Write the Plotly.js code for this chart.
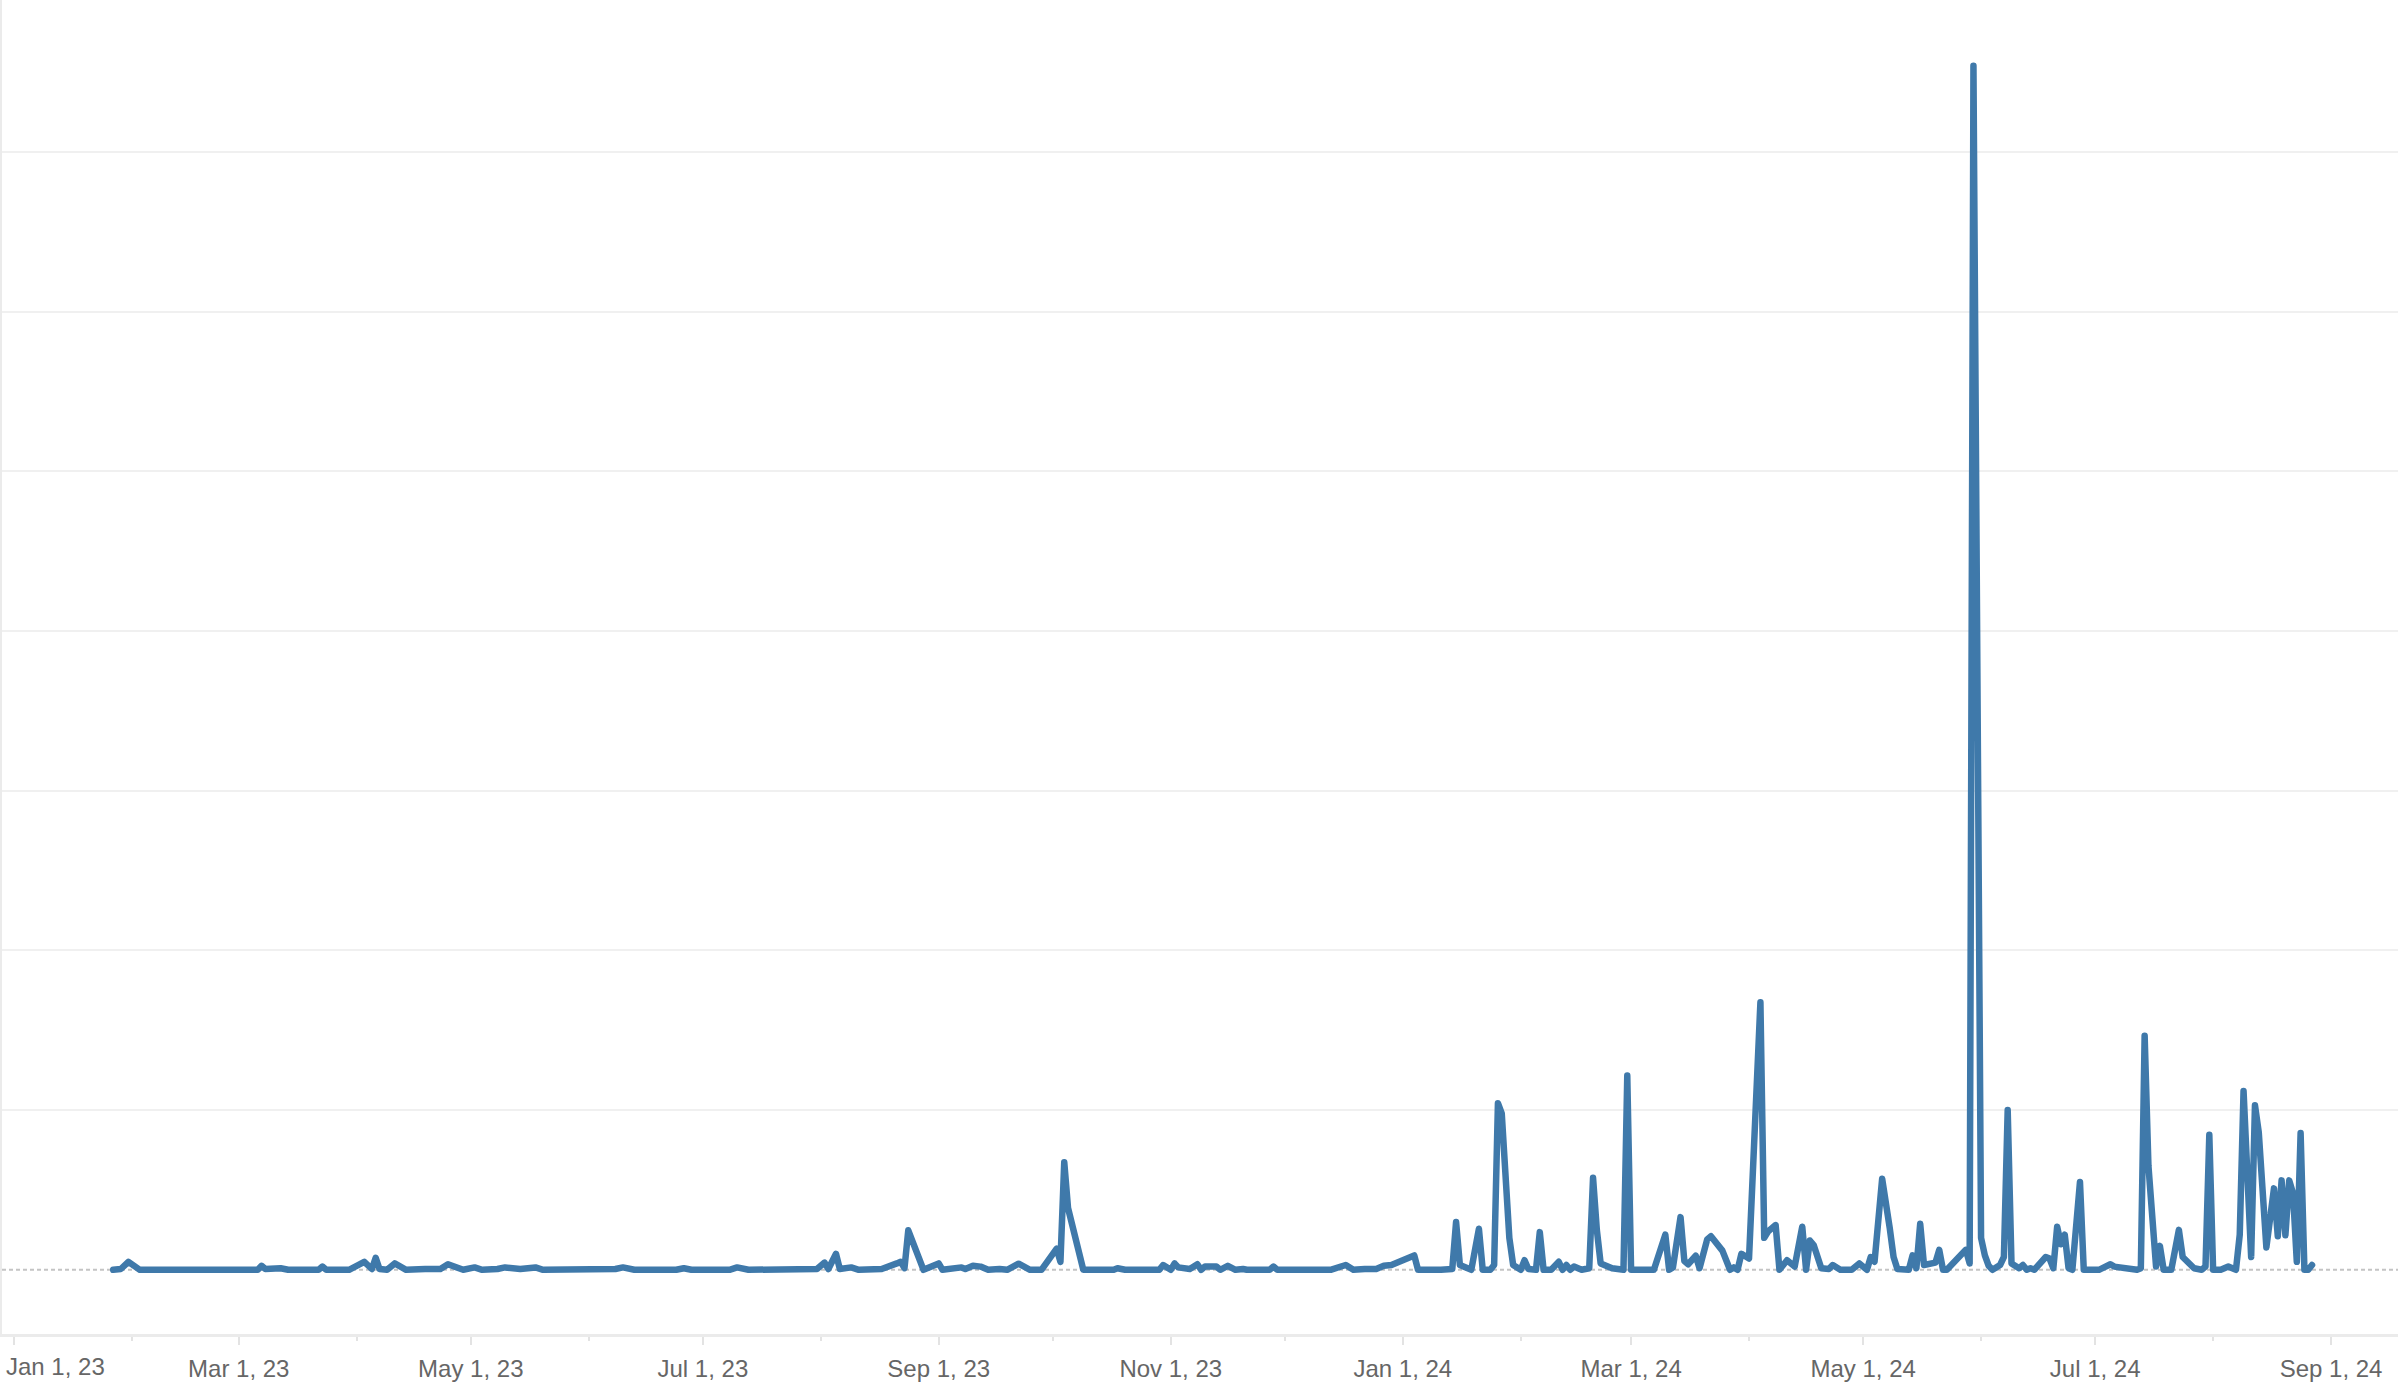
<!DOCTYPE html>
<html>
<head>
<meta charset="utf-8">
<script src="https://cdn.plot.ly/plotly-3.0.1.min.js"></script>
<style>
  html, body { margin: 0; padding: 0; background: #ffffff; }
  #chart { width: 2398px; height: 1396px; }
  #chart .js-line { stroke-linejoin: round; stroke-linecap: round; }
</style>
</head>
<body>
<div id="chart"></div>
<script>
// ---- data (y in arbitrary units, gridline step = 100) ----
const dates = [
  '2023-01-27','2023-01-29','2023-01-31','2023-02-03','2023-03-06','2023-03-07','2023-03-08','2023-03-12','2023-03-14',
  '2023-03-22','2023-03-23','2023-03-24','2023-03-30','2023-04-03','2023-04-05','2023-04-06','2023-04-07','2023-04-09',
  '2023-04-11','2023-04-14','2023-04-19','2023-04-21','2023-04-23','2023-04-25','2023-04-29','2023-05-02','2023-05-04',
  '2023-05-08','2023-05-10','2023-05-14','2023-05-18','2023-05-20','2023-06-05','2023-06-06','2023-06-08','2023-06-10',
  '2023-06-13','2023-06-24','2023-06-26','2023-06-28','2023-07-08','2023-07-10','2023-07-13','2023-07-31','2023-08-02',
  '2023-08-03','2023-08-05','2023-08-06','2023-08-09','2023-08-11','2023-08-17','2023-08-21','2023-08-22','2023-08-23',
  '2023-08-24','2023-08-28','2023-09-01','2023-09-02','2023-09-05','2023-09-07','2023-09-08','2023-09-10','2023-09-12',
  '2023-09-14','2023-09-17','2023-09-19','2023-09-22','2023-09-25','2023-09-28','2023-10-02','2023-10-03','2023-10-04',
  '2023-10-05','2023-10-09','2023-10-17','2023-10-18','2023-10-20','2023-10-29','2023-10-30','2023-11-01','2023-11-02',
  '2023-11-03','2023-11-06','2023-11-08','2023-11-09','2023-11-10','2023-11-13','2023-11-14','2023-11-16','2023-11-18',
  '2023-11-20','2023-11-21','2023-11-27','2023-11-28','2023-11-29','2023-12-13','2023-12-17','2023-12-19','2023-12-22',
  '2023-12-25','2023-12-27','2023-12-29','2024-01-04','2024-01-05','2024-01-11','2024-01-13','2024-01-14','2024-01-15',
  '2024-01-16','2024-01-19','2024-01-21','2024-01-22','2024-01-24','2024-01-25','2024-01-26','2024-01-27','2024-01-28',
  '2024-01-29','2024-01-30','2024-02-01','2024-02-02','2024-02-03','2024-02-05','2024-02-06','2024-02-07','2024-02-09',
  '2024-02-11','2024-02-12','2024-02-13','2024-02-14','2024-02-15','2024-02-17','2024-02-19','2024-02-20','2024-02-21',
  '2024-02-22','2024-02-25','2024-02-28','2024-02-29','2024-03-01','2024-03-07','2024-03-10','2024-03-11','2024-03-12',
  '2024-03-14','2024-03-15','2024-03-16','2024-03-18','2024-03-19','2024-03-21','2024-03-22','2024-03-25','2024-03-27',
  '2024-03-28','2024-03-29','2024-03-30','2024-04-01','2024-04-04','2024-04-05','2024-04-06','2024-04-08','2024-04-09',
  '2024-04-11','2024-04-13','2024-04-15','2024-04-16','2024-04-17','2024-04-18','2024-04-20','2024-04-22','2024-04-23',
  '2024-04-25','2024-04-28','2024-04-30','2024-05-02','2024-05-03','2024-05-04','2024-05-06','2024-05-08','2024-05-09',
  '2024-05-10','2024-05-13','2024-05-14','2024-05-15','2024-05-16','2024-05-17','2024-05-20','2024-05-21','2024-05-22',
  '2024-05-23','2024-05-28','2024-05-29','2024-05-30','2024-06-01','2024-06-02','2024-06-03','2024-06-04','2024-06-06',
  '2024-06-07','2024-06-08','2024-06-09','2024-06-10','2024-06-11','2024-06-12','2024-06-13','2024-06-14','2024-06-15',
  '2024-06-18','2024-06-19','2024-06-20','2024-06-21','2024-06-22','2024-06-23','2024-06-24','2024-06-25','2024-06-27',
  '2024-06-28','2024-07-02','2024-07-05','2024-07-06','2024-07-08','2024-07-10','2024-07-12','2024-07-13','2024-07-14',
  '2024-07-15','2024-07-16','2024-07-17','2024-07-18','2024-07-19','2024-07-21','2024-07-23','2024-07-24','2024-07-26',
  '2024-07-27','2024-07-29','2024-07-30','2024-07-31','2024-08-01','2024-08-03','2024-08-05','2024-08-07','2024-08-08',
  '2024-08-09','2024-08-10','2024-08-11','2024-08-12','2024-08-13','2024-08-15','2024-08-17','2024-08-18','2024-08-19',
  '2024-08-20','2024-08-21','2024-08-22','2024-08-23','2024-08-24','2024-08-25','2024-08-26','2024-08-27'
];
const values = [
  0, 0.5, 5, 0, 0, 2.5, 0.5, 1, 0,
  0, 2, 0, 0, 5, 0.5, 7.5, 0.5, 0,
  4, 0, 0.5, 1, 0.5, 3.5, 0, 1.5, 0,
  0.5, 1.5, 0.5, 1.5, 0, 0, 1, 0.5, 1.5,
  0, 0, 1, 0, 0, 1.5, 0, 0.5, 4.5,
  0.5, 10, 0.5, 1.5, 0, 0.5, 4, 5, 1,
  24.7, 0, 4, 0, 0.5, 1.5, 0.5, 2.5, 2,
  0, 0.5, 0, 3.8, 0, 0, 13.2, 5, 67.4,
  38.6, 0, 0, 1, 0, 0, 3, 0, 4,
  1.5, 0.5, 3.5, 0, 2, 2, 0, 2.5, 0,
  0.5, 0, 0, 2, 0, 0, 3, 0, 0.5,
  0.5, 2.5, 3, 9, 0, 0, 1, 0.5, 29.9,
  3, 0, 25.7, 0, 0, 3, 104.3, 98, 60,
  20, 3, 0, 6, 0.5, 0, 23.6, 0, 0,
  5, 0, 3, 0, 2, 0, 1, 57.6, 25,
  4, 1, 0, 121.6, 0, 0, 22, 0, 1.5,
  33, 5.5, 3.5, 8.8, 1, 19, 21, 12, 0,
  1.5, 0, 10, 7, 167.5, 20, 24, 28, 0,
  6, 2, 27, 0, 18.3, 15.5, 1, 0.5, 3,
  0, 0, 4, 0, 8, 5, 57, 26, 8,
  0.5, 0, 9, 1, 28.8, 3, 4.5, 12.5, 0,
  0, 12.5, 4, 754, 20, 9, 2.5, 0, 3,
  8, 100, 4, 3, 1, 3, 0, 1, 0,
  8, 7, 1, 27, 16, 22, 1, 0, 55,
  0, 0, 3.5, 2, 1.5, 0, 0, 1, 146.6,
  65, 28, 2, 15, 0, 0, 25, 8, 2.5,
  1, 0, 2, 84.5, 0, 0, 2, 0, 22,
  112, 59, 8, 103, 86, 14, 51, 21, 56,
  21.6, 56, 48, 5, 85.6, 0, 0, 3
];
const gridValues = [100, 200, 300, 400, 500, 600, 700];
const firstTickLabel = 'Jan 1, 23';
const firstTickDate = '2023-01-01';

// ---- styling ----
const lineColor = '#3f79aa';
const labelFont = { family: 'Liberation Sans, Arial, sans-serif', size: 24, color: '#666666' };

const trace = {
  type: 'scatter',
  mode: 'lines',
  x: dates,
  y: values,
  line: { color: lineColor, width: 6.5 },
  hoverinfo: 'skip'
};

const layout = {
  width: 2398,
  height: 1396,
  margin: { l: 2, r: 0, t: 0, b: 62, pad: 0 },
  paper_bgcolor: '#ffffff',
  plot_bgcolor: '#ffffff',
  showlegend: false,
  xaxis: {
    type: 'date',
    range: ['2022-12-28 18:24', '2024-09-18 14:24'],
    showgrid: false,
    zeroline: false,
    showline: true,
    linecolor: '#ebebeb',
    linewidth: 3,
    ticks: 'outside',
    ticklen: 8,
    tickwidth: 2,
    tickcolor: '#e3e3e3',
    tickmode: 'linear',
    tick0: firstTickDate,
    dtick: 'M2',
    tickformat: '%b %-d, %y',
    tickfont: labelFont,
    ticklabeloverflow: 'hide past div',
    ticklabelstandoff: 3,
    minor: {
      tickmode: 'linear',
      tick0: firstTickDate,
      dtick: 'M1',
      ticks: 'outside',
      ticklen: 4,
      tickwidth: 2,
      tickcolor: '#e3e3e3',
      showgrid: false
    },
    fixedrange: true
  },
  yaxis: {
    range: [-40.2, 795.1],
    tickmode: 'array',
    tickvals: gridValues,
    showticklabels: false,
    ticks: '',
    showgrid: true,
    gridcolor: '#f0f0f0',
    gridwidth: 2,
    zeroline: false,
    showline: true,
    linecolor: '#ebebeb',
    linewidth: 2,
    fixedrange: true
  },
  shapes: [{
    type: 'line',
    layer: 'below',
    xref: 'paper', x0: 0, x1: 1,
    yref: 'y', y0: 0, y1: 0,
    line: { color: '#c4c4c4', width: 2, dash: '4px,3px' }
  }],
  annotations: [{
    text: firstTickLabel,
    x: firstTickDate, xref: 'x', xanchor: 'left', xshift: -10,
    y: 0, yref: 'paper', yanchor: 'middle', yshift: -32,
    showarrow: false,
    font: labelFont
  }]
};

Plotly.newPlot('chart', [trace], layout, { staticPlot: true, displayModeBar: false });
</script>
</body>
</html>
